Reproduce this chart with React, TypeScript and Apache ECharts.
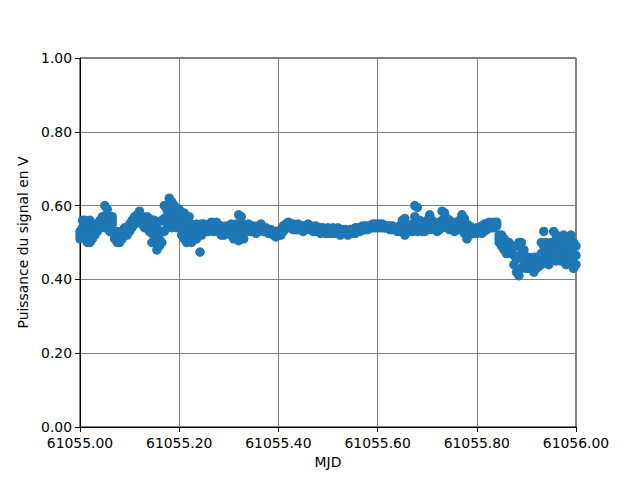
import React, { useEffect, useRef } from "react";
import * as echarts from "echarts";

// Sample times as offsets (days) from MJD 61055, every 0.005 d
const MJD0 = 61055;
const STEP = 0.005;

// Upper edge of the point cloud at each sample time (V)
const upper = [
  0.53, 0.56, 0.56, 0.55, 0.56, 0.55, 0.54, 0.55, 0.56, 0.57,
  0.60, 0.59, 0.57, 0.57, 0.53, 0.53, 0.52, 0.53, 0.54, 0.54,
  0.55, 0.56, 0.57, 0.575, 0.585, 0.57, 0.565, 0.57, 0.565, 0.55,
  0.56, 0.545, 0.53, 0.56, 0.60, 0.59, 0.62, 0.61, 0.60, 0.58,
  0.59, 0.57, 0.58, 0.56, 0.57, 0.55, 0.53, 0.55, 0.54, 0.55,
  0.55, 0.545, 0.55, 0.555, 0.55, 0.555, 0.545, 0.545, 0.54, 0.545,
  0.54, 0.55, 0.54, 0.55, 0.575, 0.57, 0.55, 0.545, 0.55, 0.54,
  0.545, 0.54, 0.545, 0.55, 0.54, 0.54, 0.535, 0.535, 0.53, 0.53,
  0.53, 0.535, 0.545, 0.55, 0.555, 0.55, 0.55, 0.545, 0.55, 0.545,
  0.545, 0.545, 0.55, 0.545, 0.54, 0.545, 0.54, 0.54, 0.54, 0.535,
  0.54, 0.535, 0.54, 0.535, 0.54, 0.535, 0.535, 0.535, 0.53, 0.535,
  0.535, 0.54, 0.54, 0.54, 0.545, 0.545, 0.545, 0.545, 0.55, 0.55,
  0.55, 0.55, 0.55, 0.545, 0.545, 0.545, 0.545, 0.54, 0.54, 0.545,
  0.56, 0.565, 0.545, 0.54, 0.55, 0.60, 0.595, 0.56, 0.55, 0.555,
  0.56, 0.575, 0.56, 0.55, 0.55, 0.555, 0.585, 0.58, 0.565, 0.56,
  0.555, 0.55, 0.555, 0.56, 0.575, 0.565, 0.55, 0.545, 0.54, 0.535,
  0.54, 0.54, 0.545, 0.55, 0.55, 0.555, 0.55, 0.555, 0.555, 0.52,
  0.52, 0.51, 0.50, 0.50, 0.49, 0.49, 0.49, 0.50, 0.50, 0.48,
  0.46, 0.46, 0.455, 0.46, 0.46, 0.45, 0.50, 0.53, 0.50, 0.48,
  0.50, 0.53, 0.52, 0.51, 0.50, 0.52, 0.51, 0.50, 0.52, 0.50,
  0.49,
];

// Core of the point cloud at each sample time (V)
const middle = [
  0.52, 0.54, 0.545, 0.525, 0.53, 0.53, 0.53, 0.54, 0.55, 0.56,
  0.57, 0.575, 0.55, 0.56, 0.52, 0.515, 0.51, 0.52, 0.53, 0.53,
  0.54, 0.55, 0.56, 0.565, 0.57, 0.56, 0.555, 0.56, 0.55, 0.525,
  0.53, 0.51, 0.51, 0.53, 0.565, 0.57, 0.59, 0.575, 0.575, 0.56,
  0.57, 0.545, 0.545, 0.53, 0.545, 0.525, 0.52, 0.53, 0.53, 0.535,
  0.54, 0.54, 0.54, 0.545, 0.54, 0.54, 0.54, 0.535, 0.53, 0.535,
  0.53, 0.535, 0.525, 0.535, 0.54, 0.545, 0.53, 0.54, 0.54, 0.535,
  0.54, 0.535, 0.54, 0.54, 0.535, 0.535, 0.53, 0.53, 0.525, 0.52,
  0.525, 0.53, 0.54, 0.545, 0.545, 0.545, 0.54, 0.54, 0.54, 0.54,
  0.54, 0.54, 0.545, 0.54, 0.535, 0.54, 0.535, 0.535, 0.535, 0.53,
  0.53, 0.53, 0.53, 0.53, 0.53, 0.53, 0.53, 0.53, 0.525, 0.53,
  0.53, 0.535, 0.535, 0.535, 0.54, 0.54, 0.54, 0.54, 0.545, 0.545,
  0.545, 0.545, 0.545, 0.54, 0.54, 0.54, 0.54, 0.535, 0.535, 0.54,
  0.545, 0.54, 0.54, 0.535, 0.54, 0.57, 0.56, 0.55, 0.54, 0.54,
  0.55, 0.555, 0.55, 0.545, 0.54, 0.545, 0.56, 0.56, 0.55, 0.545,
  0.545, 0.54, 0.545, 0.545, 0.555, 0.545, 0.53, 0.53, 0.53, 0.53,
  0.53, 0.535, 0.535, 0.54, 0.545, 0.545, 0.545, 0.55, 0.55, 0.51,
  0.505, 0.495, 0.485, 0.49, 0.48, 0.465, 0.455, 0.46, 0.47, 0.46,
  0.445, 0.445, 0.445, 0.44, 0.445, 0.44, 0.47, 0.49, 0.475, 0.46,
  0.475, 0.495, 0.485, 0.485, 0.475, 0.49, 0.475, 0.475, 0.485, 0.465,
  0.465,
];

// Lower edge of the point cloud at each sample time (V)
const lower = [
  0.51, 0.52, 0.53, 0.50, 0.50, 0.51, 0.52, 0.53, 0.54, 0.55,
  0.54, 0.56, 0.53, 0.55, 0.51, 0.50, 0.50, 0.51, 0.52, 0.52,
  0.53, 0.54, 0.55, 0.56, 0.56, 0.55, 0.54, 0.55, 0.53, 0.50,
  0.50, 0.48, 0.49, 0.50, 0.53, 0.55, 0.56, 0.54, 0.55, 0.54,
  0.55, 0.52, 0.51, 0.50, 0.52, 0.50, 0.51, 0.51, 0.52, 0.52,
  0.53, 0.53, 0.53, 0.535, 0.53, 0.53, 0.53, 0.52, 0.52, 0.525,
  0.525, 0.52, 0.51, 0.52, 0.505, 0.52, 0.51, 0.53, 0.53, 0.53,
  0.53, 0.525, 0.53, 0.535, 0.53, 0.53, 0.525, 0.525, 0.52, 0.515,
  0.52, 0.52, 0.53, 0.54, 0.54, 0.54, 0.535, 0.535, 0.535, 0.535,
  0.53, 0.535, 0.54, 0.535, 0.53, 0.53, 0.53, 0.525, 0.53, 0.525,
  0.525, 0.525, 0.525, 0.525, 0.525, 0.52, 0.525, 0.525, 0.52, 0.525,
  0.525, 0.525, 0.53, 0.53, 0.535, 0.535, 0.535, 0.54, 0.54, 0.54,
  0.54, 0.54, 0.54, 0.54, 0.54, 0.535, 0.535, 0.535, 0.53, 0.53,
  0.535, 0.52, 0.53, 0.53, 0.53, 0.54, 0.53, 0.54, 0.53, 0.53,
  0.54, 0.535, 0.54, 0.535, 0.53, 0.535, 0.54, 0.545, 0.54, 0.535,
  0.535, 0.53, 0.535, 0.535, 0.54, 0.525, 0.51, 0.52, 0.525, 0.525,
  0.525, 0.53, 0.525, 0.53, 0.535, 0.54, 0.54, 0.54, 0.545, 0.50,
  0.49, 0.48, 0.47, 0.48, 0.47, 0.44, 0.42, 0.41, 0.43, 0.44,
  0.43, 0.43, 0.44, 0.42, 0.43, 0.435, 0.44, 0.45, 0.45, 0.44,
  0.45, 0.46, 0.45, 0.46, 0.45, 0.46, 0.44, 0.45, 0.45, 0.43,
  0.44,
];

// Isolated low readings: [MJD, V]
const outliers: [number, number][] = [
  [61055.242, 0.474],
];

const xTicks = [61055.0, 61055.2, 61055.4, 61055.6, 61055.8, 61056.0];
const yTicks = [0, 0.2, 0.4, 0.6, 0.8, 1.0];

export default function App() {
  const ref = useRef<HTMLDivElement>(null);
  useEffect(() => {
    if (!ref.current) return;
    const chart = echarts.init(ref.current, null, { renderer: "svg" });
    const pts: [number, number][] = [];
    upper.forEach((v, i) => {
      const t = MJD0 + i * STEP;
      pts.push([t, v]);
      pts.push([t, middle[i]]);
      pts.push([t, lower[i]]);
    });
    outliers.forEach((p) => pts.push(p));
    const font = "DejaVu Sans";
    const fs = 13.9;
    chart.setOption({
      animation: false,
      backgroundColor: "#ffffff",
      textStyle: { fontFamily: font },
      grid: {
        left: 80,
        right: 64,
        top: 58,
        bottom: 53,
        show: true,
        borderColor: "#000000",
        borderWidth: 1,
        backgroundColor: "transparent",
      },
      xAxis: {
        type: "value",
        min: xTicks[0],
        max: xTicks[xTicks.length - 1],
        interval: 0.2,
        name: "MJD",
        nameLocation: "middle",
        nameGap: 28,
        nameTextStyle: { fontFamily: font, fontSize: fs, color: "#000" },
        axisLine: { show: true, onZero: false, lineStyle: { color: "#000", width: 1 } },
        axisTick: { show: true, inside: false, length: 5, lineStyle: { color: "#000" } },
        axisLabel: {
          fontFamily: font,
          fontSize: fs,
          lineHeight: 14,
          color: "#000",
          margin: 9,
          formatter: (v: number) => v.toFixed(2),
        },
        splitLine: { show: true, lineStyle: { color: "#808080", width: 1 } },
      },
      yAxis: {
        type: "value",
        min: yTicks[0],
        max: yTicks[yTicks.length - 1],
        interval: 0.2,
        name: "Puissance du signal en V",
        nameLocation: "middle",
        nameGap: 47,
        nameTextStyle: { fontFamily: font, fontSize: fs, color: "#000" },
        axisLine: { show: true, lineStyle: { color: "#000", width: 1 } },
        axisTick: { show: true, inside: false, length: 5, lineStyle: { color: "#000" } },
        axisLabel: {
          fontFamily: font,
          fontSize: fs,
          lineHeight: 13,
          color: "#000",
          margin: 8,
          formatter: (v: number) => v.toFixed(2),
        },
        splitLine: { show: true, lineStyle: { color: "#808080", width: 1 } },
      },
      series: [
        {
          type: "scatter",
          data: pts,
          symbol: "circle",
          symbolSize: 9.5,
          itemStyle: { color: "#1f77b4", opacity: 1 },
          z: 3,
        },
      ],
    });
    return () => chart.dispose();
  }, []);
  return (
    <div
      ref={ref}
      style={{ position: "fixed", left: 0, top: 0, width: 640, height: 480 }}
    />
  );
}
